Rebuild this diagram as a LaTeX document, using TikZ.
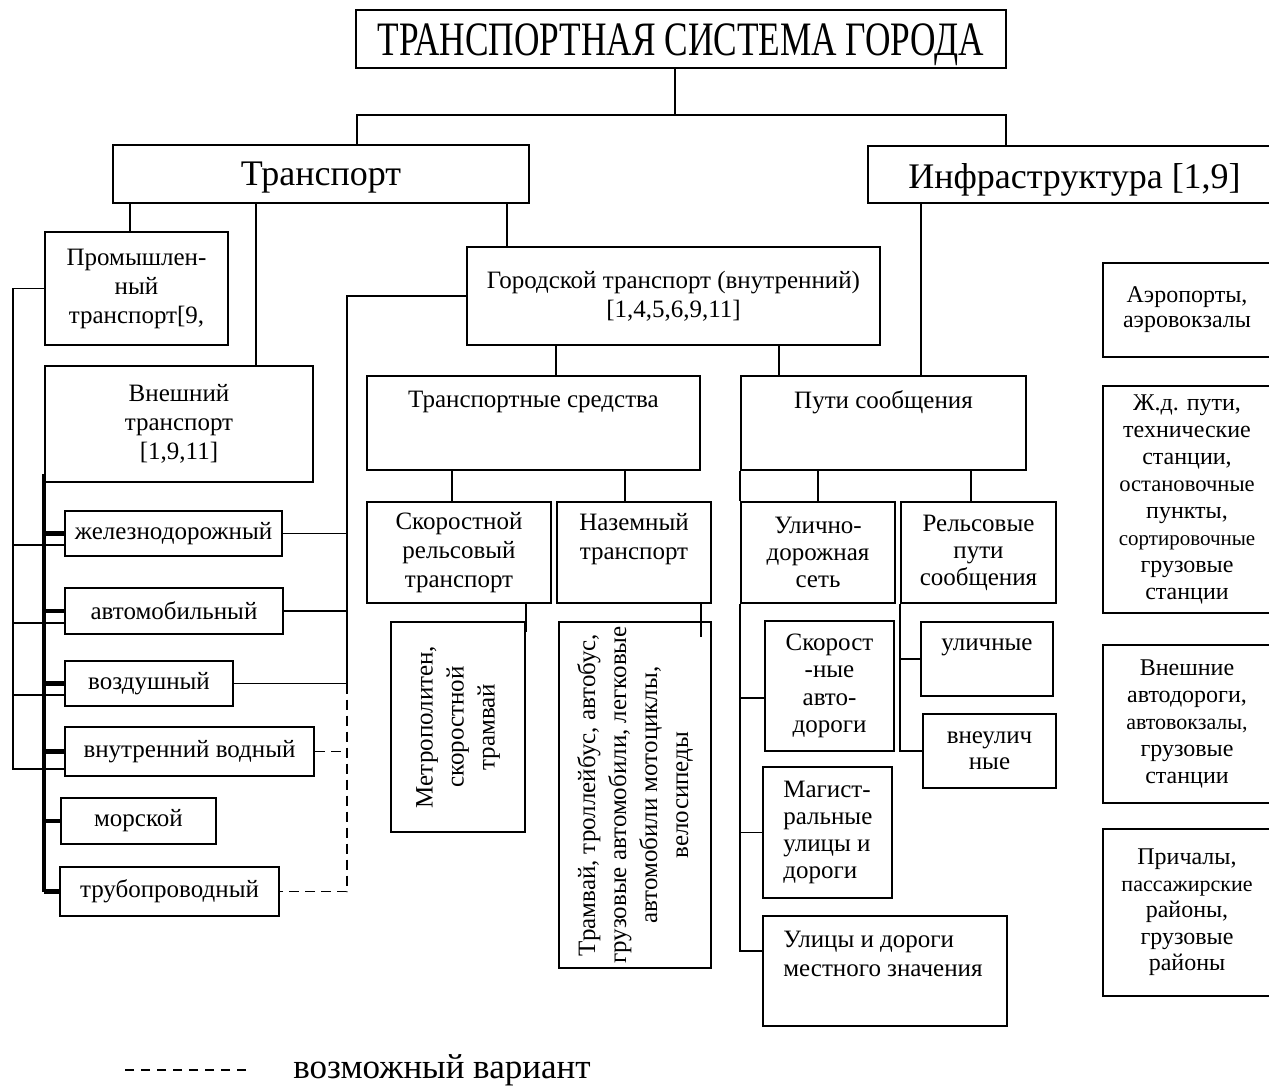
\documentclass[tikz,border=0pt]{standalone}
\usepackage{fontspec}
\setmainfont{Liberation Serif}
\newfontfamily\titlefont[FakeStretch=0.735]{Liberation Serif}
\newcommand{\bodyfont}{\fontsize{12.5}{14.5}\selectfont}
\tikzset{
  blk/.style={draw,line width=1pt,inner sep=0pt},
  txt/.style={inner sep=0pt,align=center,font=\bodyfont},
  link/.style={line width=0.9pt},
  bus/.style={line width=2.4pt},
  opt/.style={line width=0.9pt,dash pattern=on 5pt off 3pt},
}
% box from (x1,y1) to (x2,y2) in pixels, text node on top
\newcommand{\blk}[7][]{%
  \node[blk,minimum width={(#5-#3)*0.5pt},minimum height={(#6-#4)*0.5pt}] (#2) at ({(#3+#5)/2},{(#4+#6)/2}) {};
  \node[txt,#1] (#2t) at (#2) {#7};}
\begin{document}
\begin{tikzpicture}[x=0.5pt,y=-0.5pt]
\useasboundingbox (0,0) rectangle (1269,1087);
% top levels
\blk[font=\titlefont\fontsize{24}{26}\selectfont,yshift=-3pt]{tit}{356}{10}{1006}{68}{ТРАНСПОРТНАЯ СИСТЕМА ГОРОДА}
\blk[font=\fontsize{18}{20}\selectfont,yshift=-2pt]{trn}{113}{145}{529}{203}{Транспорт}
\blk[font=\fontsize{18}{20}\selectfont,xshift=1.5pt,yshift=-2.5pt]{inf}{868}{146}{1275}{203}{Инфраструктура [1,9]}
% transport
\blk{prm}{45}{232}{228}{345}{Промышлен-\\ный\\транспорт[9,}
\blk{ext}{45}{366}{313}{482}{Внешний\\транспорт\\{[1,9,11]}}
\blk{gor}{467}{247}{880}{345}{Городской транспорт (внутренний)\\{[1,4,5,6,9,11]}}
\blk[yshift=10.5pt]{trs}{367}{376}{700}{470}{Транспортные средства}
\blk[yshift=10.5pt]{pts}{741}{376}{1026}{470}{Пути сообщения}
\blk{skr}{367}{502}{551}{603}{Скоростной\\рельсовый\\транспорт}
\blk[yshift=6.75pt]{naz}{557}{502}{711}{603}{Наземный\\транспорт}
\blk[rotate=90,font=\fontsize{12.5}{15.5}\selectfont]{met}{391}{622}{525}{832}{Метрополитен,\\скоростной\\трамвай}
\blk[rotate=90,font=\fontsize{12.5}{15.5}\selectfont]{trm}{559}{622}{711}{968}{Трамвай, троллейбус, автобус,\\грузовые автомобили, легковые\\автомобили мотоциклы,\\велосипеды}
\blk[font=\fontsize{12.5}{13.5}\selectfont]{uld}{741}{502}{895}{603}{Улично-\\дорожная\\сеть}
\blk[font=\fontsize{12.5}{13.5}\selectfont]{rls}{901}{502}{1056}{603}{Рельсовые\\пути\\сообщения}
\blk[font=\fontsize{12.5}{13.75}\selectfont]{skd}{765}{621}{894}{751}{Скорост\\-ные\\авто-\\дороги}
\blk[anchor=west,xshift=-22.25pt,align=left,font=\fontsize{12.5}{13.5}\selectfont]{mag}{763}{767}{892}{898}{Магист-\\ральные\\улицы и\\дороги}
\blk[anchor=west,xshift=-51pt,yshift=8.5pt,align=left]{uli}{763}{916}{1007}{1026}{Улицы и дороги\\местного значения}
\blk[yshift=6pt]{ulc}{921}{622}{1053}{696}{уличные}
\blk[font=\fontsize{12.5}{13}\selectfont]{vnu}{923}{714}{1056}{788}{внеулич\\ные}
% infrastructure
\blk[font=\fontsize{12}{12.5}\selectfont]{aer}{1103}{263}{1271}{357}{Аэропорты,\\аэровокзалы}
\blk[font=\fontsize{12}{13.5}\selectfont]{zhd}{1103}{386}{1271}{613}{Ж.д. пути,\\технические\\станции,\\{\fontsize{11.3}{13.5}\selectfont остановочные}\\пункты,\\{\fontsize{10.5}{13.5}\selectfont сортировочные}\\грузовые\\станции}
\blk[font=\fontsize{12}{13.5}\selectfont]{vne}{1103}{645}{1271}{803}{Внешние\\автодороги,\\{\fontsize{11}{13.5}\selectfont автовокзалы,}\\грузовые\\станции}
\blk[font=\fontsize{12}{13.25}\selectfont]{pri}{1103}{829}{1271}{996}{Причалы,\\{\fontsize{11}{13.25}\selectfont пассажирские}\\районы,\\грузовые\\районы}
% kinds of external transport
\blk{zhe}{65}{511}{282}{556}{железнодорожный}
\blk{avt}{65}{588}{283}{634}{автомобильный}
\blk{vzd}{65}{661}{233}{706}{воздушный}
\blk{vvd}{65}{727}{314}{776}{внутренний водный}
\blk{mor}{61}{798}{216}{844}{морской}
\blk{trb}{60}{867}{279}{916}{трубопроводный}
% connectors
\draw[link] (675,0 |- tit.south) -- (675,115);
\draw[link] (357,0 |- trn.north) |- (1006,115) -- (1006,0 |- inf.north);
\foreach \xx/\nn in {130/prm,256/ext,507/gor}
  \draw[link] (\xx,0 |- trn.south) -- (\xx,0 |- \nn.north);
\draw[link] (prm.west) -- (13,0 |- prm.west) |- ([yshift=4pt]vvd.south west);
\foreach \nn in {zhe,avt,vzd}
  \draw[link] ([yshift=6pt]\nn.south west) -- ++(-52,0);
\draw[bus] ([yshift=4.5pt]ext.south west) -- (ext.south west |- trb.west);
\foreach \nn in {zhe,avt,vzd,vvd,mor,trb}
  \draw[bus] (ext.south west |- \nn.west) -- (\nn.west);
\draw[link] (gor.west) -- (347,0 |- gor.west) |- (vzd.east);
\foreach \nn in {zhe,avt}
  \draw[link] (\nn.east) -- (347,0 |- \nn.east);
\draw[opt] (347,0 |- vzd.east) |- (trb.east);
\draw[opt] (vvd.east) -- (347,0 |- vvd.east);
\draw[link] (556,0 |- gor.south) -- (556,0 |- trs.north);
\draw[link] (779,0 |- gor.south) -- (779,0 |- pts.north);
\draw[link] (921,0 |- inf.south) -- (921,0 |- pts.north);
\draw[link] (452,0 |- trs.south) -- (452,0 |- skr.north);
\draw[link] (625,0 |- trs.south) -- (625,0 |- naz.north);
\draw[link] (met.north east |- skr.south) -- ([yshift=-5.5pt]met.north east);
\draw[link] ([xshift=-5.5pt]trm.north east |- naz.south) -- ([xshift=-5.5pt,yshift=-8pt]trm.north east);
\draw[link] (818,0 |- pts.south) -- (818,0 |- uld.north);
\draw[link] (971,0 |- pts.south) -- (971,0 |- rls.north);
\draw[link] (pts.south west) -- (uld.north west);
\draw[link] (uld.south west) |- ([yshift=10pt]uli.west);
\draw[link] ([yshift=-6pt]skd.west) -- ++(-24,0);
\draw[link] (mag.west) -- ++(-22,0);
\draw[link] (rls.south west) |- (vnu.west);
\draw[link] (ulc.west) -- ++(-20,0);
% legend
\node[txt,font=\fontsize{17.5}{20}\selectfont,anchor=west] (leg) at (293,1070) {возможный вариант};
\draw[opt,dash pattern=on 4.5pt off 3.5pt] ([xshift=-23.5pt]leg.west) -- ++(-126,0);
\end{tikzpicture}
\end{document}
